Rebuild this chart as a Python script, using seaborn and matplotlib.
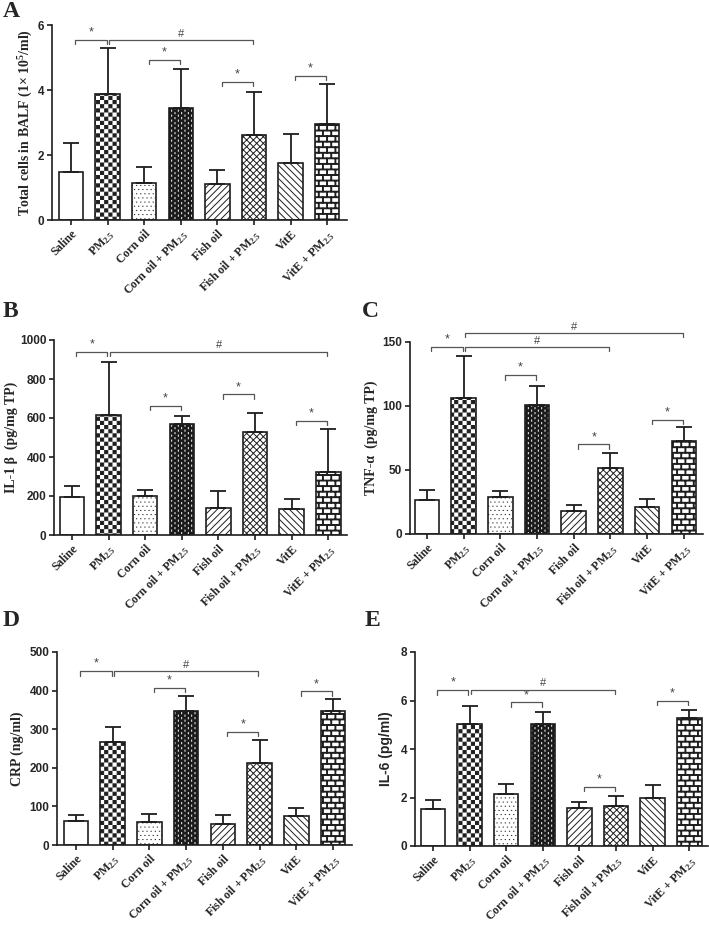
import numpy as np
import pandas as pd
import matplotlib
matplotlib.use("Agg")
import matplotlib.pyplot as plt
import matplotlib.hatch as mhatch
from matplotlib.path import Path
import seaborn as sns

# ---------------- data ----------------
groups = ['Saline', 'PM2.5', 'Corn oil', 'Corn oil + PM2.5',
          'Fish oil', 'Fish oil + PM2.5', 'VitE', 'VitE + PM2.5']
tick_labels = ['Saline', r'PM$_{\mathbf{2.5}}$', 'Corn oil', r'Corn oil + PM$_{\mathbf{2.5}}$',
               'Fish oil', r'Fish oil + PM$_{\mathbf{2.5}}$', 'VitE', r'VitE + PM$_{\mathbf{2.5}}$']

cells_mean = [1.47, 3.87, 1.15, 3.46, 1.12, 2.63, 1.76, 2.96]
cells_sd = [0.91, 1.41, 0.49, 1.19, 0.43, 1.32, 0.90, 1.21]
il1b_mean = [197, 614, 200, 567, 141, 530, 135, 324]
il1b_sd = [55, 272, 33, 45, 84, 96, 52, 218]
tnf_mean = [26.9, 106, 28.8, 101, 17.6, 51.3, 21.0, 72.3]
tnf_sd = [7.8, 33, 4.9, 15, 4.7, 11.7, 6.7, 11.1]
crp_mean = [62, 267, 60, 346, 55, 212, 76, 346]
crp_sd = [15, 38, 21, 39, 23, 60, 21, 32]
il6_mean = [1.53, 5.04, 2.15, 5.04, 1.57, 1.63, 1.99, 5.29]
il6_sd = [0.35, 0.75, 0.41, 0.47, 0.26, 0.43, 0.52, 0.33]

# significance brackets: (group i, group j, height, mark)
cells_brackets = [(0, 1, 5.54, '*'), (1, 5, 5.54, '#'), (2, 3, 4.92, '*'), (4, 5, 4.26, '*'), (6, 7, 4.43, '*')]
il1b_brackets = [(0, 1, 940, '*'), (1, 7, 940, '#'), (2, 3, 663, '*'), (4, 5, 721, '*'), (6, 7, 586, '*')]
tnf_brackets = [(0, 1, 146, '*'), (1, 7, 157, '#'), (1, 5, 146, '#'), (2, 3, 124, '*'), (4, 5, 70, '*'), (6, 7, 89, '*')]
crp_brackets = [(0, 1, 450, '*'), (1, 5, 450, '#'), (2, 3, 408, '*'), (4, 5, 293, '*'), (6, 7, 398, '*')]
il6_brackets = [(0, 1, 6.42, '*'), (1, 5, 6.45, '#'), (2, 3, 5.92, '*'), (4, 5, 2.43, '*'), (6, 7, 6.0, '*')]

cells_ticks = [0, 2, 4, 6]
il1b_ticks = [0, 200, 400, 600, 800, 1000]
tnf_ticks = [0, 50, 100, 150]
crp_ticks = [0, 100, 200, 300, 400, 500]
il6_ticks = [0, 2, 4, 6, 8]


# ---------------- custom hatch patterns ----------------
def _rect(vertices, codes, k, x0, y0, x1, y1):
    vertices[k:k + 5] = [[x0, y0], [x1, y0], [x1, y1], [x0, y1], [x0, y0]]
    codes[k:k + 5] = [Path.MOVETO, Path.LINETO, Path.LINETO, Path.LINETO, Path.CLOSEPOLY]
    return k + 5


class CheckerHatch(mhatch.HatchPatternBase):
    def __init__(self, hatch, density):
        n = int(hatch.count('O') * density)
        if n % 2:
            n += 1
        self.n = n
        self.num_vertices = (n * n // 2) * 5

    def set_vertices_and_codes(self, vertices, codes):
        n = self.n
        s = 1.0 / n
        e = 0.005
        k = 0
        for i in range(n):
            for j in range(n):
                if (i + j) % 2 == 0:
                    k = _rect(vertices, codes, k, i * s + e, j * s + e, (i + 1) * s - e, (j + 1) * s - e)


class BrickHatch(mhatch.HatchPatternBase):
    def __init__(self, hatch, density):
        self.rects = []
        if hatch.count('o') > 0:
            nr, nb, t = 18, 12, 0.009
            for r in range(nr):
                y = (r + 0.5) / nr
                self.rects.append((0.0, y - t / 2, 1.0, y + t / 2))
            for r in range(nr):
                ylo, yhi = (r + 0.5) / nr, (r + 1.5) / nr
                off = 0.5 * (r % 2)
                for c in range(nb):
                    x = (c + 0.25 + off) / nb
                    if yhi <= 1.0:
                        self.rects.append((x - t / 2, ylo, x + t / 2, yhi))
                    else:
                        self.rects.append((x - t / 2, ylo, x + t / 2, 1.0))
                        self.rects.append((x - t / 2, 0.0, x + t / 2, yhi - 1.0))
        self.num_vertices = 5 * len(self.rects)

    def set_vertices_and_codes(self, vertices, codes):
        k = 0
        for (x0, y0, x1, y1) in self.rects:
            k = _rect(vertices, codes, k, x0, y0, x1, y1)


class DashHatch(mhatch.HatchPatternBase):
    def __init__(self, hatch, density):
        self.on = hatch.count('*') > 0
        self.nc, self.nr, self.L = 30, 20, 0.012
        self.num_vertices = 2 * self.nc * self.nr if self.on else 0

    def set_vertices_and_codes(self, vertices, codes):
        k = 0
        for c in range(self.nc):
            x = (c + 0.5) / self.nc
            for r in range(self.nr):
                y0 = (r + 0.5 * (c % 2) + 0.25) / self.nr
                vertices[k] = [x, y0]
                vertices[k + 1] = [x, y0 + self.L]
                codes[k] = Path.MOVETO
                codes[k + 1] = Path.LINETO
                k += 2


class TinyDotHatch(mhatch.HatchPatternBase):
    def __init__(self, hatch, density):
        n = int(hatch.count('.') * density)
        if n % 2:
            n += 1
        self.n = n
        self.num_vertices = 2 * n * n

    def set_vertices_and_codes(self, vertices, codes):
        n = self.n
        k = 0
        for r in range(n):
            for c in range(n):
                x = (c + 0.25 + 0.5 * (r % 2)) / n
                y = (r + 0.5) / n
                vertices[k] = [x, y]
                vertices[k + 1] = [x + 0.003, y]
                codes[k] = Path.MOVETO
                codes[k + 1] = Path.LINETO
                k += 2


mhatch._hatch_types = [t for t in mhatch._hatch_types
                       if t not in (mhatch.SmallCircles, mhatch.LargeCircles, mhatch.Stars,
                                    mhatch.SmallFilledCircles)] + \
                      [CheckerHatch, BrickHatch, DashHatch, TinyDotHatch]

# ---------------- style ----------------
sns.set_style('ticks')
plt.rcParams['font.family'] = ['Liberation Sans', 'DejaVu Sans']
plt.rcParams['mathtext.fontset'] = 'custom'
plt.rcParams['mathtext.rm'] = 'Liberation Serif'
plt.rcParams['mathtext.bf'] = 'Liberation Serif:bold'
plt.rcParams['mathtext.it'] = 'Liberation Serif:italic'
plt.rcParams['hatch.linewidth'] = 0.7

INK = '#1e1e1e'
bar_styles = [('white', '', False), ('white', 'OOOO', False), ('white', '....', False),
              ('#1a1a1a', '*', True), ('white', '/////', False), ('white', 'xxxxx', False),
              ('white', '\\\\\\\\\\', False), ('white', 'o', False)]

fig = plt.figure(figsize=(7.09, 9.26), dpi=100)
W, H = 709.0, 926.0


def make_ax(left, bottom_px, right, top_px):
    return fig.add_axes([left / W, 1 - bottom_px / H, (right - left) / W, (bottom_px - top_px) / H])


def draw_panel(ax, means, sds, yticks, ylabel, ylabel_family, brackets, xlim, label_x):
    df = pd.DataFrame({'group': groups, 'value': means})
    sns.barplot(data=df, x='group', y='value', order=groups, ax=ax, width=0.67,
                color='white', saturation=1, edgecolor=INK, linewidth=1.2, errorbar=None)
    for p, (fc, hatch, white_hatch) in zip(ax.patches, bar_styles):
        p.set_facecolor(fc)
        p.set_edgecolor(INK)
        if hatch:
            p.set_hatch(hatch)
        if white_hatch:
            p._hatch_color = (1.0, 1.0, 1.0, 1.0)
    xs = np.arange(len(groups))
    ax.errorbar(xs, means, yerr=[np.zeros(len(means)), sds], fmt='none', ecolor=INK,
                elinewidth=1.3, capsize=5.5, capthick=1.3, zorder=3)
    ymax = yticks[-1]
    ax.set_ylim(0, ymax)
    ax.set_yticks(yticks)
    ax.set_xlim(*xlim)
    ax.set_xticks(xs)
    ax.set_xticklabels(tick_labels, rotation=45, ha='right', rotation_mode='anchor',
                       fontfamily='Liberation Serif', fontweight='bold', fontsize=8.6)
    for t in ax.get_yticklabels():
        t.set_fontweight('bold')
        t.set_fontsize(8.5)
    ax.set_xlabel('')
    ax.set_ylabel(ylabel, fontsize=10, fontweight='bold', family=ylabel_family)
    ax.yaxis.set_label_coords(label_x, 0.5)
    sns.despine(ax=ax)
    for s in ('left', 'bottom'):
        ax.spines[s].set_linewidth(1.2)
        ax.spines[s].set_color(INK)
    ax.tick_params(axis='both', direction='out', length=3.5, width=1.2, color=INK, pad=2)
    ax.tick_params(axis='x', pad=2)
    d = 0.022 * ymax
    for (i, j, y, mark) in brackets:
        xa = i + (0.04 if mark == '#' else 0.12)
        xb = j - 0.03
        ax.plot([xa, xa, xb, xb], [y - d, y, y, y - d], color='#555555', lw=0.9,
                clip_on=False, zorder=4)
        ax.annotate(mark, xy=((xa + xb) / 2, y), xytext=(0, 1.0), textcoords='offset points',
                    ha='center', va='bottom', fontsize=9 if mark == '*' else 8,
                    color='#444444', annotation_clip=False)


axA = make_ax(52, 220, 347, 25)
draw_panel(axA, cells_mean, cells_sd, cells_ticks,
           r'Total cells in BALF (1$\mathbf{\times}$ 10$^{\mathbf{5}}$/ml)', 'Liberation Serif',
           cells_brackets, (-0.52, 7.54), -0.058)

axB = make_ax(54, 535, 347, 340)
draw_panel(axB, il1b_mean, il1b_sd, il1b_ticks, 'IL-1 β  (pg/mg TP)', 'Liberation Serif',
           il1b_brackets, (-0.49, 7.51), -0.123)

axC = make_ax(410, 534, 703, 342)
draw_panel(axC, tnf_mean, tnf_sd, tnf_ticks, 'TNF-α  (pg/mg TP)', 'Liberation Serif',
           tnf_brackets, (-0.46, 7.52), -0.109)

axD = make_ax(57, 845, 352, 652)
draw_panel(axD, crp_mean, crp_sd, crp_ticks, 'CRP (ng/ml)', 'Liberation Serif',
           crp_brackets, (-0.52, 7.52), -0.112)

axE = make_ax(415, 846, 708, 652)
draw_panel(axE, il6_mean, il6_sd, il6_ticks, 'IL-6 (pg/ml)', 'Liberation Sans',
           il6_brackets, (-0.49, 7.51), -0.075)

for letter, x, y in [('A', 0.004, 0.999), ('B', 0.004, 0.675), ('C', 0.511, 0.675),
                     ('D', 0.004, 0.341), ('E', 0.514, 0.341)]:
    fig.text(x, y, letter, fontsize=17, fontweight='bold', family='Liberation Serif',
             ha='left', va='top')

fig.savefig('out.png', dpi=100)
